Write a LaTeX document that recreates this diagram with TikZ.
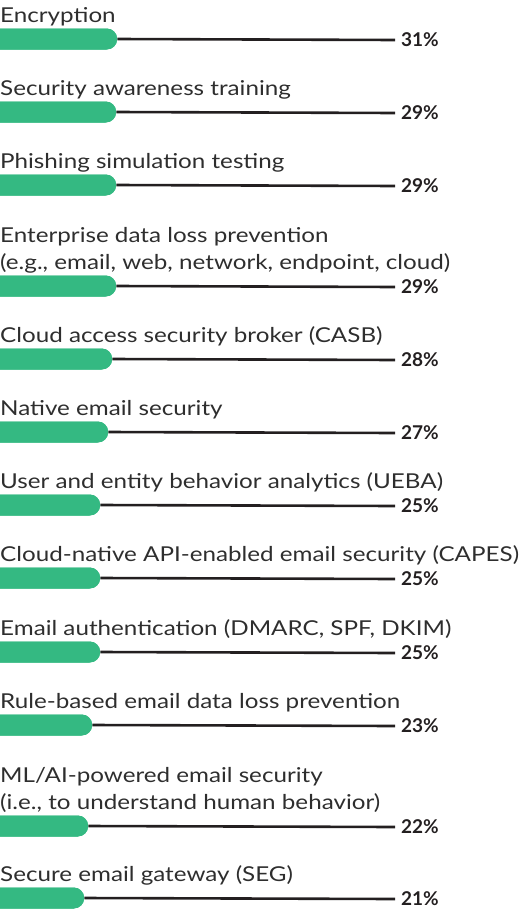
\documentclass[tikz,border=0pt]{standalone}
\usepackage{fontspec}
\setmainfont{Lato}
\newfontfamily\labelfont[FakeStretch=1.18]{Lato}
\usetikzlibrary{shapes.misc}
\definecolor{bargreen}{HTML}{34B982}
\definecolor{ink}{HTML}{231F20}
\definecolor{labelgray}{HTML}{2E2E2E}
\tikzset{
  x=1pt, y=1pt,
  bar/.style={fill=bargreen, draw=none, rounded rectangle, rounded rectangle west arc=none,
    minimum height=21pt, inner sep=0pt, anchor=west},
  lead/.style={draw=ink, line width=2.6pt},
  pct/.style={font=\fontsize{19}{22}\selectfont\bfseries, text=ink, anchor=west, inner xsep=6pt, inner ysep=0pt},
  lbl/.style={font=\labelfont\fontsize{20.5}{27}\selectfont, text=labelgray, anchor=base west, inner sep=0pt, align=left},
}
\begin{document}
\begin{tikzpicture}
\useasboundingbox (0,0) rectangle (523,-913);
% each row: name / bar centre y / bar length / value / label
\foreach \n/\y/\w/\v/\t in {
  r1/-39/117/31/{Encryption},
  r2/-112/116/29/{Security awareness training},
  r3/-185/116/29/{Phishing simulation testing},
  r4/-286/116/29/{(e.g., email, web, network, endpoint, cloud)},
  r5/-359/112/28/{Cloud access security broker (CASB)},
  r6/-432/108/27/{Native email security},
  r7/-505/100/25/{User and entity behavior analytics (UEBA)},
  r8/-578/100/25/{Cloud-native API-enabled email security (CAPES)},
  r9/-652/100/25/{Email authentication (DMARC, SPF, DKIM)},
  r10/-725/92/23/{Rule-based email data loss prevention},
  r11/-826/88/22/{(i.e., to understand human behavior)},
  r12/-898/84/21/{Secure email gateway (SEG)}} {
  \node[lbl] (\n-label) at (0,\y+17) {\t};
  \node[pct] (\n-value) at (395,\y-1) {\v\%};
  \node[bar, minimum width=\w pt] (\n-bar) at (0,\y) {};
  \draw[lead] (\n-bar.east) -- (\n-value.west);
  \node[bar, minimum width=\w pt] at (0,\y) {};
}
% first lines of the two-line labels
\node[lbl] (r4-label-top) at (0,-286+17+27) {Enterprise data loss prevention};
\node[lbl] (r11-label-top) at (0,-826+17+27) {ML/AI-powered email security};
\end{tikzpicture}
\end{document}
